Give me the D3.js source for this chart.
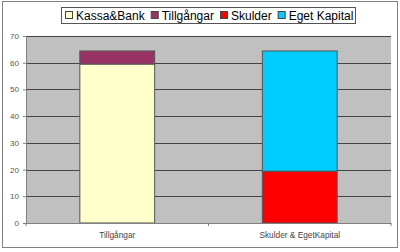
<!DOCTYPE html>
<html>
<head>
<meta charset="utf-8">
<script src="https://cdn.jsdelivr.net/npm/d3@7"></script>
<style>
  body { margin: 0; background: #fff; }
  svg text { font-family: "Liberation Sans", Arial, sans-serif; }
</style>
</head>
<body>
<div id="chart"></div>
<script>
// data
const categories = ["Tillgångar", "Skulder & EgetKapital"];
const seriesNames = ["Kassa&Bank", "Tillgångar", "Skulder", "Eget Kapital"];
const seriesColors = ["#ffffcc", "#993366", "#ff0000", "#00ccff"];
const kassaBank  = [59.5, 0];
const tillgangar = [4.9, 0];
const skulder    = [0, 19.4];
const egetKapital = [0, 45.0];
const yTicks = [0, 10, 20, 30, 40, 50, 60, 70];

const width = 400, height = 252;
const margin = { top: 36, right: 9, bottom: 29, left: 26 };
const w = width - margin.left - margin.right;
const h = height - margin.top - margin.bottom;

const svg = d3.select("#chart").append("svg")
  .attr("width", width).attr("height", height);

// outer border
svg.append("rect")
  .attr("x", 2.5).attr("y", 1.5).attr("width", 395).attr("height", 246)
  .attr("fill", "#fff").attr("stroke", "#808080").attr("stroke-width", 1);

const g = svg.append("g").attr("transform", `translate(${margin.left},${margin.top})`);

const x = d3.scaleBand().domain(categories).range([0, w]).paddingInner(0.59).paddingOuter(0.295);
const y = d3.scaleLinear().domain([0, 70]).range([h, 0]);

// plot area
g.append("rect").attr("width", w).attr("height", h).attr("fill", "#c0c0c0");

// gridlines
g.selectAll(".grid").data(yTicks.filter(d => d > 0))
  .enter().append("line")
  .attr("x1", 0).attr("x2", w)
  .attr("y1", d => Math.round(y(d)) + 0.5).attr("y2", d => Math.round(y(d)) + 0.5)
  .attr("stroke", "#444").attr("stroke-width", 1);

// stacked bars
const rows = categories.map((c, i) => ({
  cat: c, "Kassa&Bank": kassaBank[i], "Tillgångar": tillgangar[i],
  "Skulder": skulder[i], "Eget Kapital": egetKapital[i]
}));
const stacked = d3.stack().keys(seriesNames)(rows);

stacked.forEach((layer, k) => {
  g.selectAll(".s" + k).data(layer.filter(d => d[1] - d[0] > 0))
    .enter().append("rect")
    .attr("x", d => x(d.data.cat))
    .attr("y", d => y(d[1]))
    .attr("width", x.bandwidth())
    .attr("height", d => y(d[0]) - y(d[1]))
    .attr("fill", seriesColors[k])
    .attr("stroke", "#555").attr("stroke-width", 1);
});

// y axis
const yAxis = g.append("g")
  .call(d3.axisLeft(y).tickValues(yTicks).tickSize(3).tickPadding(4));
yAxis.select(".domain").attr("stroke", "#808080");
yAxis.selectAll(".tick line").attr("stroke", "#808080");
yAxis.selectAll("text").attr("fill", "#555").attr("font-size", 8);

// x axis
const xAxis = g.append("g").attr("transform", `translate(0,${h})`)
  .call(d3.axisBottom(x).tickSize(0).tickPadding(9));
xAxis.select(".domain").attr("stroke", "#808080");
xAxis.selectAll("text").attr("fill", "#444").attr("font-size", 8.3);
// category separators
g.selectAll(".sep").data([0, 1, 2])
  .enter().append("line")
  .attr("x1", d => d * w / 2).attr("x2", d => d * w / 2)
  .attr("y1", h).attr("y2", h + 3)
  .attr("stroke", "#808080");

// legend
const legend = svg.append("g").attr("transform", "translate(61,7)");
legend.append("rect").attr("x", 0.5).attr("y", 0.5).attr("width", 294).attr("height", 16)
  .attr("fill", "#fff").attr("stroke", "#555");
let lx = 4;
seriesNames.forEach((name, i) => {
  const item = legend.append("g").attr("transform", `translate(${lx},0)`);
  item.append("rect").attr("x", 0.5).attr("y", 4.5).attr("width", 7).attr("height", 7)
    .attr("fill", seriesColors[i]).attr("stroke", "#444");
  const t = item.append("text").attr("x", 11).attr("y", 12.5)
    .attr("font-size", 12).attr("fill", "#000").text(name);
  lx += 11 + t.node().getComputedTextLength() + 6;
});
</script>
</body>
</html>
